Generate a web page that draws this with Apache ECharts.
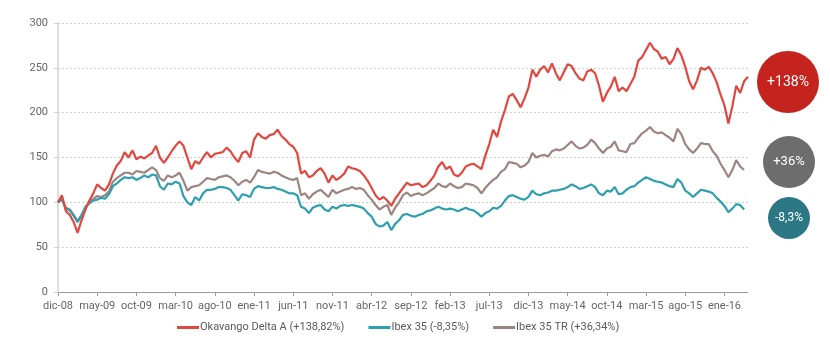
<!DOCTYPE html>
<html>
<head>
<meta charset="utf-8">
<script src="https://cdn.jsdelivr.net/npm/echarts@6/dist/echarts.min.js"></script>
<style>html,body{margin:0;padding:0;background:#fff}#c{width:830px;height:350px}</style>
</head>
<body>
<div id="c"></div>
<script>
// Tick labels (every 5 months), one point per half month from dic-08
const tickLabels = ['dic-08','may-09','oct-09','mar-10','ago-10','ene-11','jun-11','nov-11','abr-12','sep-12','feb-13','jul-13','dic-13','may-14','oct-14','mar-15','ago-15','ene-16'];
const yTicks = [0, 50, 100, 150, 200, 250, 300];
const seriesNames = ['Okavango Delta A (+138,82%)', 'Ibex 35 (-8,35%)', 'Ibex 35 TR (+36,34%)'];
const badgeTexts = ['+138%', '+36%', '-8,3%'];

const okavango = [
100,108,90,86,78,66,80,92,102,110,
120,116,113,120,132,141,146,156,150,158,
148,151,149,152,155,163,150,144,150,157,
163,168,163,150,137,146,143,150,156,150,
154,155,156,161,157,150,145,155,157,150,
170,177,173,171,175,176,181,174,170,165,
162,155,132,135,128,130,135,138,132,122,
130,125,128,132,140,138,137,135,130,124,
116,108,103,106,102,96,104,110,116,122,
119,120,121,117,119,124,130,140,145,137,
140,131,129,133,140,142,143,140,137,152,
165,181,173,190,203,218,221,214,206,216,
228,248,240,248,252,245,255,244,236,245,
254,252,244,238,236,246,248,244,230,212,
222,229,240,224,228,224,232,240,258,262,
270,278,271,268,260,262,254,260,272,264,
251,235,226,236,250,248,251,244,234,220,
208,188,207,230,222,235,240];

const ibex = [
100,103,93,91,85,78,85,95,99,102,
103,105,104,109,118,121,125,128,127,128,
125,127,130,128,131,130,118,114,121,120,
123,121,107,100,97,106,102,110,114,114,
115,117,117,116,114,108,102,109,108,106,
115,118,117,116,116,117,115,114,112,110,
110,108,95,93,88,94,96,97,92,90,
95,93,96,97,96,97,96,95,93,88,
84,76,73,74,78,69,76,80,86,87,
85,84,86,87,90,91,93,95,93,92,
93,92,90,92,94,92,91,88,84,88,
90,94,93,96,102,107,108,106,104,103,
106,113,109,108,110,111,113,113,114,115,
117,120,118,115,116,118,120,117,110,108,
113,112,117,109,110,114,117,118,122,125,
128,126,124,123,122,120,118,117,126,122,
113,110,106,110,114,113,112,110,105,101,
96,89,93,98,97,92,null];

const ibexTR = [
100,104,94,92,86,79,86,94,100,104,
107,106,108,112,123,127,130,133,133,131,
135,134,133,136,139,136,127,124,130,128,
130,133,124,113,117,118,119,123,127,126,
125,128,129,130,128,124,119,123,125,122,
128,136,134,133,132,134,133,130,128,126,
125,127,108,110,104,109,112,114,110,106,
114,110,112,114,115,117,115,116,114,108,
103,97,92,95,97,86,94,100,108,111,
107,109,110,108,110,113,116,121,118,117,
121,118,116,117,121,120,119,116,110,116,
121,125,128,134,137,145,144,143,139,141,
145,155,150,152,153,151,157,159,158,160,
164,168,163,160,161,164,170,166,160,155,
160,162,168,158,157,156,165,166,172,177,
180,184,179,177,178,175,172,168,182,176,
165,159,155,160,166,165,165,157,152,143,
136,128,136,147,140,136,null];

const colors = ['#e2473f', '#2d9fae', '#9c8480'];
const badgeColors = ['#c4241d', '#6d6d6d', '#2b7884'];

const categories = okavango.map((_, i) => String(i));

const chart = echarts.init(document.getElementById('c'), null, {renderer: 'canvas'});
const font = 'Roboto, "Noto Sans", sans-serif';

function mkSeries(name, data, color, z) {
  return {
    name, type: 'line', data, showSymbol: false, symbol: 'none', z,
    lineStyle: {color, width: 2.2}, itemStyle: {color},
    connectNulls: false, animation: false
  };
}

chart.setOption({
  animation: false,
  textStyle: {fontFamily: font},
  grid: {left: 58, right: 82, top: 23, bottom: 58, containLabel: false},
  legend: {
    bottom: 12, left: 172,
    itemWidth: 22, itemHeight: 3, itemGap: 24, icon: 'rect',
    textStyle: {color: '#5a5a5a', fontSize: 11, fontFamily: font, padding: [0, 0, 0, -4]},
    data: [seriesNames[0], seriesNames[1], seriesNames[2]]
  },
  xAxis: {
    type: 'category', data: categories, boundaryGap: false,
    axisLine: {lineStyle: {color: '#9a9a9a', width: 1}},
    axisTick: {show: true, interval: 9, length: 4, lineStyle: {color: '#9a9a9a'}},
    axisLabel: {
      interval: 9, color: '#666', fontSize: 11, margin: 9, fontFamily: font,
      formatter: (v, idx) => (idx % 10 === 0 && tickLabels[idx / 10]) ? tickLabels[idx / 10] : ''
    },
    splitLine: {show: false}
  },
  yAxis: {
    type: 'value', min: yTicks[0], max: yTicks[yTicks.length - 1], interval: 50,
    axisLine: {show: true, lineStyle: {color: '#d5d5d5', width: 1.5}},
    axisTick: {show: true, length: 4, lineStyle: {color: '#d5d5d5'}},
    axisLabel: {color: '#666', fontSize: 11, margin: 10, fontFamily: font},
    splitLine: {show: true, lineStyle: {color: '#cfcfcf', type: [2, 2], width: 1}}
  },
  series: [
    mkSeries(seriesNames[2], ibexTR, colors[2], 2),
    mkSeries(seriesNames[1], ibex, colors[1], 3),
    mkSeries(seriesNames[0], okavango, colors[0], 4)
  ],
  graphic: [
    {type: 'circle', shape: {cx: 788, cy: 82, r: 31}, style: {fill: badgeColors[0]}},
    {type: 'text', x: 788, y: 82, style: {text: badgeTexts[0], fill: '#fff', fontSize: 14, fontFamily: font, align: 'center', verticalAlign: 'middle'}},
    {type: 'circle', shape: {cx: 789, cy: 162, r: 26}, style: {fill: badgeColors[1]}},
    {type: 'text', x: 789, y: 162, style: {text: badgeTexts[1], fill: '#fff', fontSize: 13, fontFamily: font, align: 'center', verticalAlign: 'middle'}},
    {type: 'circle', shape: {cx: 789, cy: 218, r: 21}, style: {fill: badgeColors[2]}},
    {type: 'text', x: 789, y: 218, style: {text: badgeTexts[2], fill: '#fff', fontSize: 12, fontFamily: font, align: 'center', verticalAlign: 'middle'}}
  ]
});
</script>
</body>
</html>
